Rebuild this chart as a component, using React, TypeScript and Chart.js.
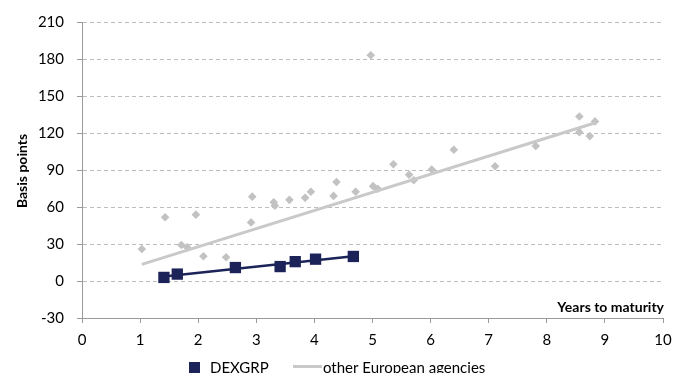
import React, { useEffect, useRef } from "react";
import { Chart, registerables } from "chart.js";

Chart.register(...registerables);

// DEXGRP spreads (years to maturity, basis points)
const dexYears = [1.41, 1.64, 2.64, 3.41, 3.67, 4.02, 4.67];
const dexSpread = [2.9, 5.6, 10.9, 11.7, 15.7, 17.7, 19.9];

// Other European agencies
const otherYears = [
  1.03, 1.43, 1.71, 1.81, 1.96, 2.09, 2.48, 2.91, 2.93, 3.3, 3.32, 3.57, 3.84,
  3.94, 4.33, 4.38, 4.71, 4.97, 5.01, 5.09, 5.36, 5.63, 5.71, 6.02, 6.4, 7.11,
  7.81, 8.56, 8.56, 8.74, 8.83,
];
const otherSpread = [
  26, 51.7, 29.2, 27.3, 53.8, 20.1, 19.3, 47.5, 68.4, 63.9, 61, 65.8, 67.4,
  72.4, 69, 80.3, 72.4, 183, 76.9, 74.8, 94.7, 86.2, 81.7, 90.4, 106.4, 93,
  109.5, 133.4, 120.7, 117.5, 129.4,
];

// Linear trend lines (end points)
const dexTrendYears = [1.41, 4.67];
const dexTrendSpread = [3.7, 20.1];
const otherTrendYears = [1.03, 8.85];
const otherTrendSpread = [13.5, 128.5];

const xMin = 0;
const xMax = 10;
const yMin = -30;
const yMax = 210;
const yStep = 30;

const seriesNames = ["DEXGRP", "other European agencies"];
const xTitle = "Years to maturity";
const yTitle = "Basis points";

const NAVY = "#1b2358";
const GRAY_PT = "#c2c2c2";
const GRAY_LINE = "#c9c9c9";
const FONT = "Lato, 'Open Sans', sans-serif";

const toPts = (xs: number[], ys: number[]) => xs.map((x, i) => ({ x, y: ys[i] }));

export default function App() {
  const ref = useRef<HTMLCanvasElement | null>(null);

  useEffect(() => {
    if (!ref.current) return;

    const overlay = {
      id: "overlay",
      afterDraw(chart: any) {
        const ctx = chart.ctx;
        const area = chart.chartArea;
        ctx.save();
        ctx.fillStyle = "#000";
        ctx.font = `bold 14px ${FONT}`;
        ctx.textAlign = "right";
        ctx.textBaseline = "alphabetic";
        ctx.fillText(xTitle, area.right + 1, area.bottom - 6);
        ctx.save();
        ctx.translate(22.5, (area.top + area.bottom) / 2 + 1);
        ctx.rotate(-Math.PI / 2);
        ctx.textAlign = "center";
        ctx.textBaseline = "middle";
        ctx.fillText(yTitle, 0, 0);
        ctx.restore();
        ctx.font = `15px ${FONT}`;
        ctx.textAlign = "left";
        ctx.textBaseline = "alphabetic";
        ctx.fillStyle = NAVY;
        ctx.fillRect(189, 362, 11, 11);
        ctx.fillStyle = "#000";
        ctx.fillText(seriesNames[0], 210, 372.5);
        ctx.strokeStyle = GRAY_LINE;
        ctx.lineWidth = 3;
        ctx.beginPath();
        ctx.moveTo(293, 366.5);
        ctx.lineTo(322, 366.5);
        ctx.stroke();
        ctx.fillText(seriesNames[1], 323, 372.5);
        ctx.restore();
      },
    };

    const chart = new Chart(ref.current, {
      type: "scatter",
      data: {
        datasets: [
          {
            label: seriesNames[0],
            data: toPts(dexYears, dexSpread),
            pointStyle: "rect",
            pointRadius: 8,
            pointHoverRadius: 8,
            backgroundColor: NAVY,
            borderColor: NAVY,
            borderWidth: 0,
            showLine: false,
          },
          {
            label: "DEXGRP trend",
            data: toPts(dexTrendYears, dexTrendSpread),
            showLine: true,
            pointRadius: 0,
            borderColor: NAVY,
            borderWidth: 2.5,
          },
          {
            label: "other trend",
            data: toPts(otherTrendYears, otherTrendSpread),
            showLine: true,
            pointRadius: 0,
            borderColor: GRAY_LINE,
            borderWidth: 3,
          },
          {
            label: seriesNames[1],
            data: toPts(otherYears, otherSpread),
            pointStyle: "rectRot",
            pointRadius: 4.3,
            pointHoverRadius: 4.3,
            backgroundColor: GRAY_PT,
            borderColor: GRAY_PT,
            borderWidth: 0,
            showLine: false,
          },
        ],
      },
      options: {
        animation: false,
        responsive: false,
        events: [],
        layout: { padding: { top: 17, right: 22, bottom: 25, left: 0 } },
        plugins: {
          legend: { display: false },
          tooltip: { enabled: false },
          title: { display: false },
        },
        scales: {
          x: {
            type: "linear",
            min: xMin,
            max: xMax,
            afterFit: (s: any) => {
              s.height = 30;
            },
            ticks: {
              stepSize: 1,
              color: "#000",
              padding: 8,
              font: { family: FONT, size: 15 },
              maxRotation: 0,
            },
            grid: {
              drawOnChartArea: false,
              drawTicks: true,
              tickLength: 5,
              color: "#9a9a9a",
            },
            border: { display: true, color: "#9a9a9a", width: 1 },
          },
          y: {
            type: "linear",
            min: yMin,
            max: yMax,
            afterFit: (s: any) => {
              s.width = 82;
            },
            ticks: {
              stepSize: yStep,
              color: "#000",
              padding: 13,
              font: { family: FONT, size: 15 },
            },
            grid: {
              drawOnChartArea: true,
              drawTicks: true,
              tickLength: 5,
              color: "#bdbdbd",
              tickColor: "#9a9a9a",
            },
            border: { display: true, color: "#9a9a9a", width: 1, dash: [4, 3] },
          },
        },
      },
      plugins: [overlay],
    });

    return () => chart.destroy();
  }, []);

  return (
    <div style={{ position: "absolute", left: 0, top: 0, width: 685, height: 373, background: "#fff" }}>
      <canvas ref={ref} width={685} height={373} style={{ display: "block" }} />
    </div>
  );
}
